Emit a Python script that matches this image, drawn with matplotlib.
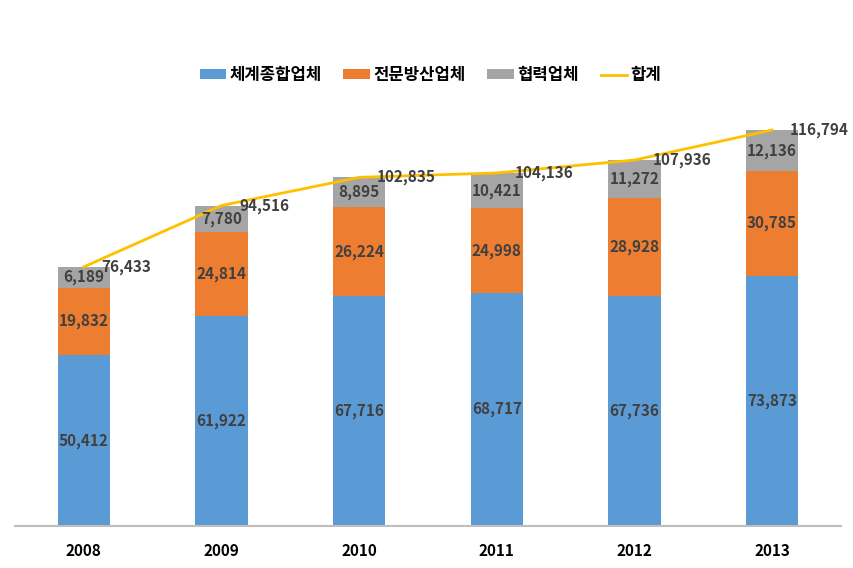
import matplotlib
matplotlib.use("Agg")
import matplotlib.pyplot as plt
from matplotlib.ticker import NullLocator

plt.rcParams['font.family'] = ['Noto Sans CJK KR', 'DejaVu Sans']

years = ["2008", "2009", "2010", "2011", "2012", "2013"]
system = [50412, 61922, 67716, 68717, 67736, 73873]
special = [19832, 24814, 26224, 24998, 28928, 30785]
partner = [6189, 7780, 8895, 10421, 11272, 12136]
total = [76433, 94516, 102835, 104136, 107936, 116794]
series_names = ["체계종합업체", "전문방산업체", "협력업체", "합계"]

c_blue = "#5B9BD5"
c_orange = "#ED7D31"
c_gray = "#A5A5A5"
c_yellow = "#FFC000"
c_text = "#404040"

fig = plt.figure(figsize=(8.54, 5.68), dpi=100)
ax = fig.add_axes([0.0176, 0.074, 0.967, 0.8356])

x = list(range(len(years)))
w = 0.38
b1 = ax.bar(x, system, w, color=c_blue, label=series_names[0])
bottom2 = system
b2 = ax.bar(x, special, w, bottom=bottom2, color=c_orange, label=series_names[1])
bottom3 = [a + b for a, b in zip(system, special)]
b3 = ax.bar(x, partner, w, bottom=bottom3, color=c_gray, label=series_names[2])
ln, = ax.plot(x, total, color=c_yellow, lw=2, label=series_names[3])

fs = 11
for i in x:
    ax.text(i, system[i] / 2, f"{system[i]:,}", ha="center", va="center",
            fontsize=fs, fontweight="bold", color=c_text)
    ax.text(i, bottom2[i] + special[i] / 2, f"{special[i]:,}", ha="center", va="center",
            fontsize=fs, fontweight="bold", color=c_text)
    ax.text(i, bottom3[i] + partner[i] / 2, f"{partner[i]:,}", ha="center", va="center",
            fontsize=fs, fontweight="bold", color=c_text)
    ax.text(i + 0.13, total[i], f"{total[i]:,}", ha="left", va="center",
            fontsize=fs, fontweight="bold", color=c_text)

ax.set_xlim(-0.5, len(years) - 0.5)
ax.set_ylim(0, 140000)
ax.set_xticks(x)
ax.set_xticklabels(years, fontsize=11, fontweight="bold", color="#000000")
ax.tick_params(axis="x", length=0, pad=12)
ax.yaxis.set_major_locator(NullLocator())
for s in ["top", "right", "left"]:
    ax.spines[s].set_visible(False)
ax.spines["bottom"].set_color("#BFBFBF")
ax.spines["bottom"].set_linewidth(1.5)

leg = fig.legend(handles=[b1, b2, b3, ln], labels=series_names, loc="center",
                 bbox_to_anchor=(0.504, 0.868), ncol=4, frameon=False,
                 fontsize=12, handlelength=1.6, handleheight=0.55, columnspacing=1.3,
                 handletextpad=0.2)
for t in leg.get_texts():
    t.set_fontweight("bold")
    t.set_color("#000000")

fig.savefig("out.png", dpi=100)
